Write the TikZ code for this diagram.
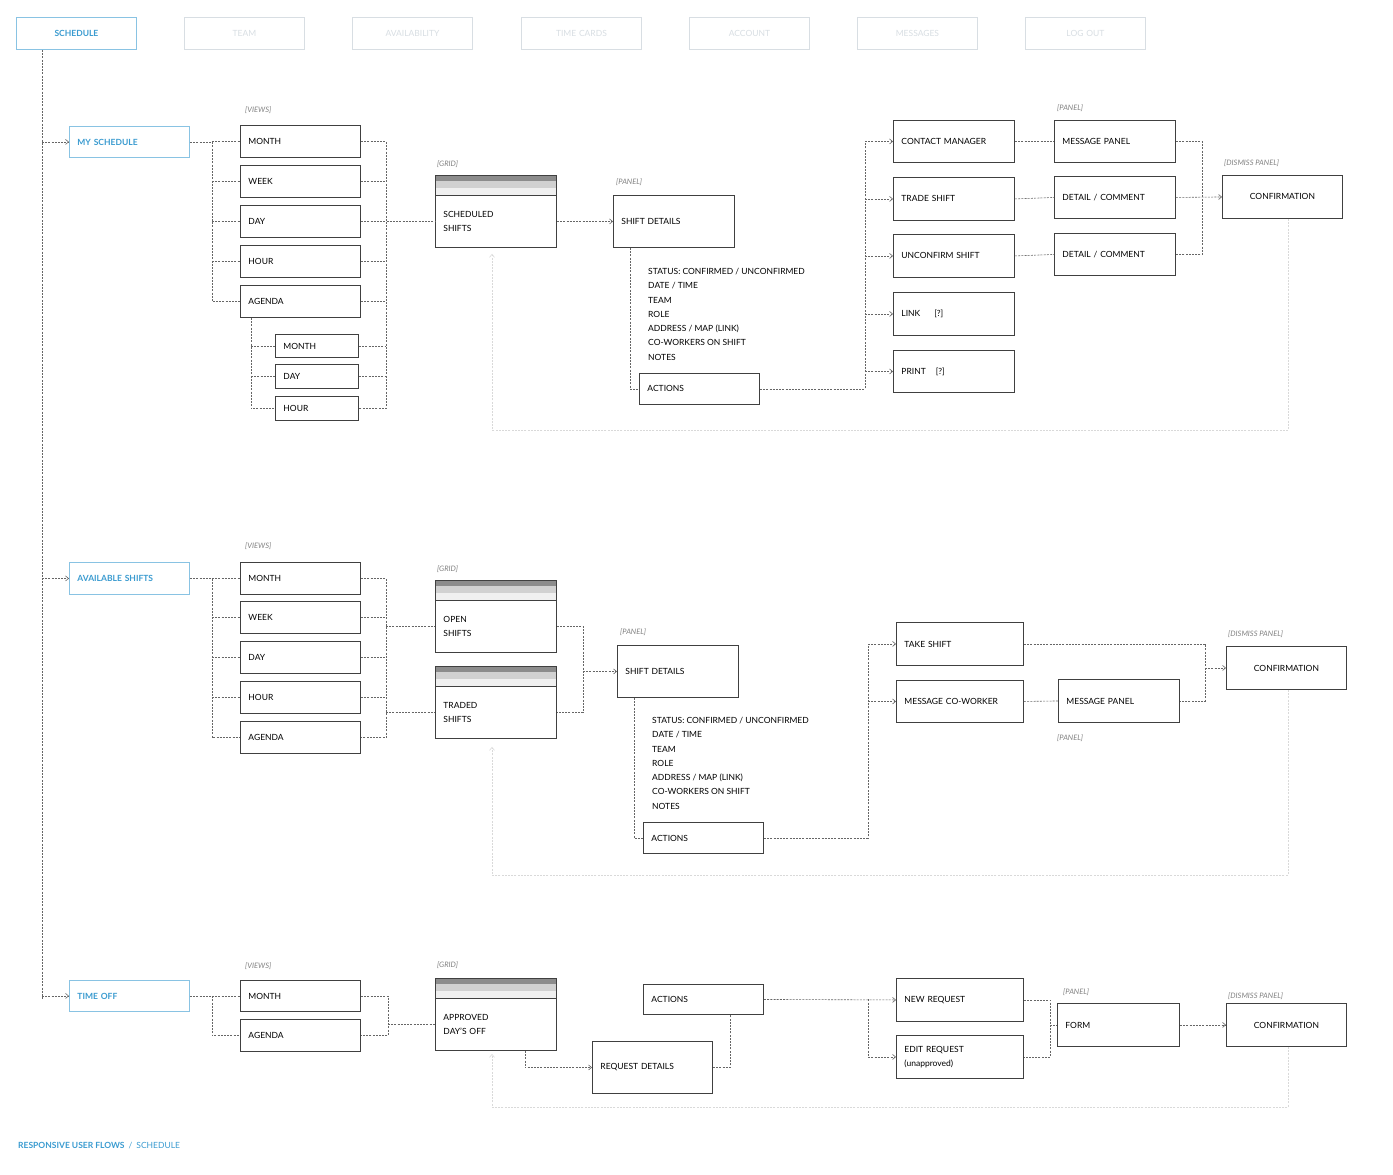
\documentclass[tikz,border=0pt]{standalone}
\usepackage{fontspec}
\setmainfont{Lato}
\usetikzlibrary{arrows.meta,calc}
\definecolor{bl}{HTML}{3A9BD0}
\definecolor{tabc}{HTML}{D8DEE3}
\tikzset{
 box/.style={draw=black!75,line width=0.9pt,fill=white,inner xsep=8pt,inner ysep=0pt,align=left,font=\fontsize{8.5}{14}\selectfont},
 blbox/.style={draw=bl!60,text=bl,font=\fontsize{8.5}{10}\selectfont\bfseries},
 tabbox/.style={draw=tabc,text=tabc,align=center},
 dl/.style={draw=black!60,line width=0.6pt,dash pattern=on 2pt off 1.2pt},
 arr/.style={dl,-{Straight Barb[length=3pt,width=5pt]}},
 faint/.style={draw=black!15,line width=0.6pt,dash pattern=on 2pt off 1.2pt,-{Straight Barb[length=3pt,width=5pt]}},
 lab/.style={text=black!50,font=\fontsize{7.5}{9}\selectfont\itshape,inner sep=0pt,anchor=south west},
 det/.style={font=\fontsize{8.5}{14.3}\selectfont,align=left,inner sep=0pt,anchor=north west}
}
\newcommand\bx[7][]{\pgfmathsetmacro\tw{#5-16}\node[box,#1,anchor=north west,minimum width=#5pt,minimum height=#6pt,text width=\tw pt] (#2) at (#3,#4) {#7};}
\newcommand\grd[4]{\fill[black!45] (#2,#3-20) rectangle (#2+121,#3-14);
 \fill[black!18] (#2,#3-14) rectangle (#2+121,#3-7);
 \fill[black!6] (#2,#3-7) rectangle (#2+121,#3);
 \draw[black!75,line width=0.9pt] (#2,#3-20) rectangle (#2+121,#3);
 \bx{#1}{#2}{#3}{121}{52}{#4}}
\begin{document}
\begin{tikzpicture}[x=1pt,y=-1pt]
\useasboundingbox (0,0) rectangle (1393,1175);
% tabs
\bx[blbox,align=center]{t1}{16}{17}{120}{32}{SCHEDULE}
\bx[tabbox]{t2}{184}{17}{120}{32}{TEAM}
\bx[tabbox]{t3}{352}{17}{120}{32}{AVAILABILITY}
\bx[tabbox]{t4}{521}{17}{120}{32}{TIME CARDS}
\bx[tabbox]{t5}{689}{17}{120}{32}{ACCOUNT}
\bx[tabbox]{t6}{857}{17}{120}{32}{MESSAGES}
\bx[tabbox]{t7}{1025}{17}{120}{32}{LOG OUT}
\coordinate (trunk) at (42,0);
\coordinate (lv) at (212,0);
\coordinate (gx) at (492,0);
\coordinate (fx) at (1288,0);
%%%%% section 1
\bx[blbox]{mys}{69}{126}{120}{31}{MY SCHEDULE}
\node[lab] (v1) at (245,114) {[VIEWS]};
\bx{m1}{240}{125}{120}{32}{MONTH}
\bx{w1}{240}{165}{120}{32}{WEEK}
\bx{d1}{240}{205}{120}{32}{DAY}
\bx{h1}{240}{245}{120}{32}{HOUR}
\bx{a1}{240}{285}{120}{32}{AGENDA}
\bx{sm1}{275}{334}{83}{23}{MONTH}
\bx{sd}{275}{364}{83}{24}{DAY}
\bx{sh}{275}{396}{83}{24}{HOUR}
\node[lab] (gr1) at (437,168) {[GRID]};
\grd{g1}{435}{195}{SCHEDULED\\SHIFTS}
\node[lab] (p1) at (616,186) {[PANEL]};
\bx{sd1}{613}{195}{121}{52}{SHIFT DETAILS}
\node[det] (dt1) at (648,268) {STATUS: CONFIRMED / UNCONFIRMED\\DATE / TIME\\TEAM\\ROLE\\ADDRESS / MAP (LINK)\\CO-WORKERS ON SHIFT\\NOTES};
\bx{ac1}{639}{373}{120}{31}{ACTIONS}
\bx{cm}{893}{120}{121}{42}{CONTACT MANAGER}
\bx{ts1}{893}{177}{121}{43}{TRADE SHIFT}
\bx{us}{893}{234}{121}{43}{UNCONFIRM SHIFT}
\bx{lk}{893}{292}{121}{43}{LINK\hspace{14pt}[?]}
\bx{pr}{893}{350}{121}{42}{PRINT\hspace{10pt}[?]}
\node[lab] (p1b) at (1057,112) {[PANEL]};
\bx{mp1}{1054}{120}{121}{42}{MESSAGE PANEL}
\bx{dc1}{1054}{176}{121}{42}{DETAIL / COMMENT}
\bx{dc2}{1054}{233}{121}{42}{DETAIL / COMMENT}
\node[lab] (dp1) at (1224,167) {[DISMISS PANEL]};
\bx[align=center]{cf1}{1222}{175}{120}{43}{CONFIRMATION}
% connectors 1
\draw[dl] (trunk |- t1.south) -- (trunk |- 0,999);
\draw[arr] (trunk |- mys.west) -- (mys.west);
\draw[dl] (mys.east) -| (lv |- a1.west) -- (a1.west);
\foreach \n in {m1,w1,d1,h1} \draw[dl] (lv |- \n.west) -- (\n.west);
\coordinate (rv1) at (386,0);
\draw[dl] (m1.east) -| (rv1 |- sh.east) -- (sh.east);
\foreach \n in {w1,h1,a1,sm1,sd} \draw[dl] (\n.east) -- (rv1 |- \n.east);
\draw[dl] (d1.east) -- (g1.west);
\coordinate (sv) at (251,0);
\draw[dl] (sv |- a1.south) |- (sh.west);
\foreach \n in {sm1,sd} \draw[dl] (sv |- \n.west) -- (\n.west);
\draw[arr] (g1.east) -- (sd1.west);
\coordinate (dv1) at (630,0);
\draw[dl] (dv1 |- sd1.south) |- (ac1.west);
\coordinate (ab1) at (865,0);
\draw[dl] (ac1.east) -| (ab1 |- cm.west);
\foreach \n in {cm,ts1,us,lk,pr} \draw[arr] (ab1 |- \n.west) -- (\n.west);
\draw[dl] (cm.east) -- (mp1.west);
\draw[dl] (ts1.east) -- (dc1.west);
\draw[dl] (us.east) -- (dc2.west);
\coordinate (rb1) at (1202,0);
\draw[dl] (mp1.east) -| (rb1 |- dc2.east) -- (dc2.east);
\draw[arr] (dc1.east) -- (cf1.west);
\draw[faint] (fx |- cf1.south) |- (gx |- 0,430) -- ($(gx |- g1.south)+(0,6)$);
%%%%% section 2
\bx[blbox]{as}{69}{562}{120}{32}{AVAILABLE SHIFTS}
\node[lab] (v2) at (245,550) {[VIEWS]};
\bx{m2}{240}{562}{120}{32}{MONTH}
\bx{w2}{240}{601}{120}{32}{WEEK}
\bx{d2}{240}{641}{120}{32}{DAY}
\bx{h2}{240}{681}{120}{32}{HOUR}
\bx{a2}{240}{721}{120}{32}{AGENDA}
\node[lab] (gr2) at (437,573) {[GRID]};
\grd{os}{435}{600}{OPEN\\SHIFTS}
\grd{tr}{435}{686}{TRADED\\SHIFTS}
\node[lab] (p2) at (620,636) {[PANEL]};
\bx{sd2}{617}{645}{121}{52}{SHIFT DETAILS}
\node[det] (dt2) at (652,717) {STATUS: CONFIRMED / UNCONFIRMED\\DATE / TIME\\TEAM\\ROLE\\ADDRESS / MAP (LINK)\\CO-WORKERS ON SHIFT\\NOTES};
\bx{ac2}{643}{822}{120}{31}{ACTIONS}
\bx{tk}{896}{622}{127}{43}{TAKE SHIFT}
\bx{mc}{896}{680}{127}{42}{MESSAGE CO-WORKER}
\bx{mp2}{1058}{679}{121}{43}{MESSAGE PANEL}
\node[lab,anchor=north west] (p2b) at (1057,735) {[PANEL]};
\node[lab] (dp2) at (1228,638) {[DISMISS PANEL]};
\bx[align=center]{cf2}{1226}{646}{120}{43}{CONFIRMATION}
\draw[arr] (trunk |- as.west) -- (as.west);
\draw[dl] (as.east) -| (lv |- a2.west) -- (a2.west);
\foreach \n in {m2,w2,d2,h2} \draw[dl] (lv |- \n.west) -- (\n.west);
\coordinate (rv2) at (386,0);
\draw[dl] (m2.east) -| (rv2 |- a2.east) -- (a2.east);
\foreach \n in {w2,d2,h2} \draw[dl] (\n.east) -- (rv2 |- \n.east);
\draw[dl] (rv2 |- os.west) -- (os.west);
\draw[dl] (rv2 |- tr.west) -- (tr.west);
\coordinate (ov) at (583,0);
\draw[dl] (os.east) -| (ov |- tr.east) -- (tr.east);
\draw[arr] (ov |- sd2.west) -- (sd2.west);
\coordinate (dv2) at (634,0);
\draw[dl] (dv2 |- sd2.south) |- (ac2.west);
\coordinate (ab2) at (868,0);
\draw[dl] (ac2.east) -| (ab2 |- tk.west);
\foreach \n in {tk,mc} \draw[arr] (ab2 |- \n.west) -- (\n.west);
\draw[dl] (mc.east) -- (mp2.west);
\coordinate (rb2) at (1205,0);
\draw[dl] (tk.east) -| (rb2 |- mp2.east) -- (mp2.east);
\draw[arr] (rb2 |- cf2.west) -- (cf2.west);
\draw[faint] (fx |- cf2.south) |- (gx |- 0,875) -- ($(gx |- tr.south)+(0,8)$);
%%%%% section 3
\bx[blbox]{to}{69}{980}{120}{31}{TIME OFF}
\node[lab] (v3) at (245,970) {[VIEWS]};
\bx{m3}{240}{980}{120}{31}{MONTH}
\bx{a3}{240}{1019}{120}{32}{AGENDA}
\node[lab] (gr3) at (437,969) {[GRID]};
\grd{ap}{435}{998}{APPROVED\\DAY'S OFF}
\bx{ac3}{643}{984}{120}{30}{ACTIONS}
\bx{rd}{592}{1041}{120}{52}{REQUEST DETAILS}
\bx{nr}{896}{978}{127}{43}{NEW REQUEST}
\bx{er}{896}{1035}{127}{43}{EDIT REQUEST\\(unapproved)}
\node[lab] (p3) at (1063,996) {[PANEL]};
\bx{fm}{1057}{1003}{122}{43}{FORM}
\node[lab] (dp3) at (1228,1000) {[DISMISS PANEL]};
\bx[align=center]{cf3}{1226}{1003}{120}{43}{CONFIRMATION}
\draw[arr] (trunk |- to.west) -- (to.west);
\draw[dl] (to.east) -| (lv |- a3.west) -- (a3.west);
\draw[dl] (lv |- m3.west) -- (m3.west);
\coordinate (rv3) at (388,0);
\draw[dl] (m3.east) -| (rv3 |- a3.east) -- (a3.east);
\draw[dl] (rv3 |- ap.west) -- (ap.west);
\coordinate (gv3) at (525,0);
\draw[arr] (gv3 |- ap.south) |- (rd.west);
\coordinate (av3) at (730,0);
\draw[dl] (rd.east) -| (av3 |- ac3.south);
\coordinate (ab3) at (868,0);
\draw[arr] (ac3.east) -- (nr.west);
\draw[arr] (ab3 |- ac3.east) |- (er.west);
\coordinate (fb3) at (1050,0);
\draw[dl] (nr.east) -| (fb3 |- er.east) -- (er.east);
\draw[dl] (fb3 |- fm.west) -- (fm.west);
\draw[arr] (fm.east) -- (cf3.west);
\draw[faint] (fx |- cf3.south) |- (gx |- 0,1107) -- ($(gx |- ap.south)+(0,3)$);
% footer
\node[anchor=west,inner sep=0pt,text=bl,font=\fontsize{8.5}{10}\selectfont] (ft) at (18,1146) {\textbf{RESPONSIVE USER FLOWS}\hspace{4pt}/\hspace{4pt}SCHEDULE};
\end{tikzpicture}
\end{document}
